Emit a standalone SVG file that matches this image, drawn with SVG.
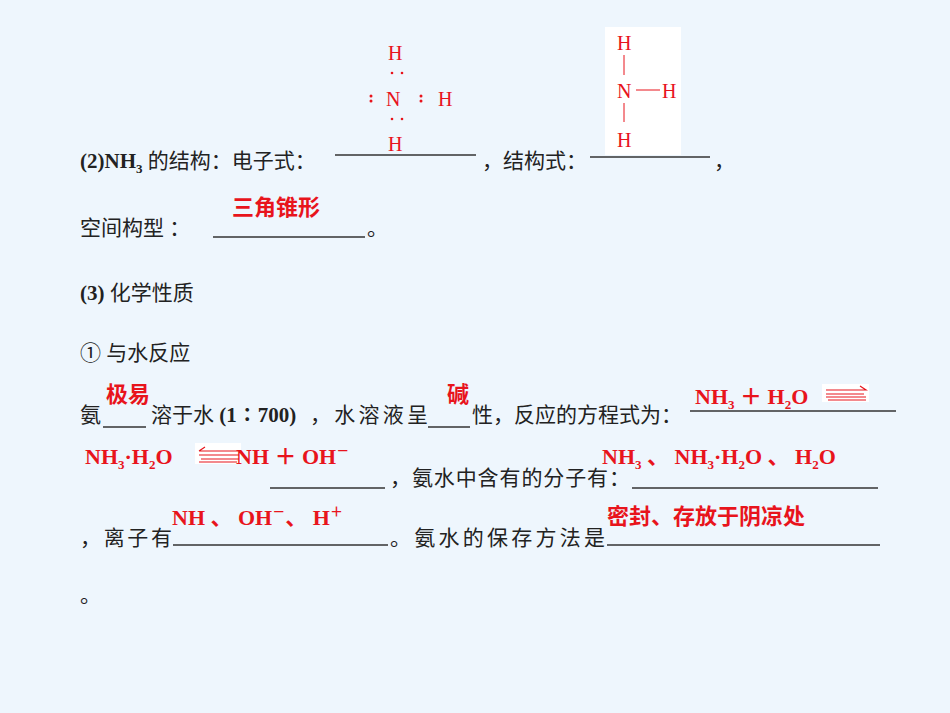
<svg xmlns="http://www.w3.org/2000/svg" width="950" height="713" viewBox="0 0 950 713">
<style>
.k{font-family:"Liberation Serif","Noto Sans CJK SC",serif;font-size:21px;fill:#222}
.kb{font-weight:bold}
.r{font-family:"Liberation Serif","Noto Sans CJK SC",serif;font-size:22px;fill:#e8141c;font-weight:bold}
.rs{font-family:"Liberation Serif",serif;font-size:20px;fill:#e8141c}
.s{font-size:13px}
.u{stroke:#333;stroke-width:1.3}
.eq{stroke:#e8141c;stroke-width:1.2;fill:none}
</style>
<rect width="950" height="713" fill="#eef6fd"/>
<g id="electron">
<text class="rs" x="388" y="60">H</text>
<text class="rs" x="386" y="106">N</text>
<text class="rs" x="438" y="106">H</text>
<text class="rs" x="388" y="151">H</text>
<g fill="#e8141c"><circle cx="392" cy="73" r="1.3"/><circle cx="402" cy="73" r="1.3"/><circle cx="392" cy="119" r="1.3"/><circle cx="402" cy="119" r="1.3"/><circle cx="371" cy="96" r="1.5"/><circle cx="371" cy="101" r="1.5"/><circle cx="421" cy="96" r="1.5"/><circle cx="421" cy="101" r="1.5"/></g>
</g>
<g id="structural">
<rect x="605" y="27" width="76" height="128" fill="#fff"/>
<text class="rs" x="617" y="50">H</text>
<text class="rs" x="617" y="98">N</text>
<text class="rs" x="662" y="98">H</text>
<text class="rs" x="617" y="147">H</text>
<g stroke="#e8141c" stroke-width="1"><line x1="624" y1="55" x2="624" y2="75"/><line x1="624" y1="103" x2="624" y2="122"/><line x1="636" y1="90" x2="660" y2="90"/></g>
</g>
<g id="text">
<text class="k" x="80" y="168"><tspan class="kb">(2)NH</tspan><tspan class="kb s" dy="5">3</tspan><tspan dy="-5"> 的结构：电子式：</tspan></text>
<line class="u" x1="335" y1="155" x2="476" y2="155"/>
<text class="k" x="482" y="168">，结构式：</text>
<line class="u" x1="590" y1="157" x2="710" y2="157"/>
<text class="k" x="714" y="168">，</text>
<text class="r" x="232" y="215">三角锥形</text>
<text class="k" x="80" y="235">空间构型 ：</text>
<line class="u" x1="213" y1="237" x2="365" y2="237"/>
<text class="k" x="367" y="235">。</text>
<text class="k" x="80" y="300"><tspan class="kb">(3)</tspan> 化学性质</text>
<text class="k" x="80" y="360">① 与水反应</text>
<text class="r" x="106" y="402">极易</text>
<text class="r" x="447" y="402">碱</text>
<text class="k" x="80" y="422">氨</text>
<line class="u" x1="103" y1="427" x2="146" y2="427"/>
<text class="k" x="151" y="422">溶于水 <tspan class="kb">(1∶700)</tspan></text>
<text class="k" x="310" y="422" textLength="118">，水溶液呈</text>
<line class="u" x1="428" y1="427" x2="470" y2="427"/>
<text class="k" x="472" y="422">性，反应的方程式为：</text>
<line class="u" x1="690" y1="411" x2="896" y2="411"/>
<text class="r" x="695" y="404">NH<tspan class="s" dy="5">3</tspan><tspan dy="-5"> ＋ H</tspan><tspan class="s" dy="5">2</tspan><tspan dy="-5">O</tspan></text>
<rect x="822" y="384" width="47" height="18" fill="#fff"/>
<path class="eq" d="M826 390H866L860 386M826 397H866M826 394H864M828 400H866" />
<text class="r" x="85" y="464">NH<tspan class="s" dy="5">3</tspan><tspan dy="-5">·H</tspan><tspan class="s" dy="5">2</tspan><tspan dy="-5">O</tspan></text>
<rect x="195" y="443" width="46" height="21" fill="#fff"/>
<path class="eq" d="M199 451H239M205 447L199 451M199 455H239M201 459H239M199 462H237" />
<text class="r" x="236" y="464">NH ＋ OH<tspan class="s" dy="-9">－</tspan></text>
<line class="u" x1="270" y1="488" x2="385" y2="488"/>
<text class="k" x="390" y="485" textLength="240">，氨水中含有的分子有：</text>
<line class="u" x1="632" y1="488" x2="878" y2="488"/>
<text class="r" x="602" y="464">NH<tspan class="s" dy="5">3</tspan><tspan dy="-5"> 、 NH</tspan><tspan class="s" dy="5">3</tspan><tspan dy="-5">·H</tspan><tspan class="s" dy="5">2</tspan><tspan dy="-5">O 、 H</tspan><tspan class="s" dy="5">2</tspan><tspan dy="-5">O</tspan></text>
<text class="r" x="172" y="525">NH 、 OH<tspan class="s" dy="-9">－</tspan><tspan dy="9">、 H</tspan><tspan class="s" dy="-9">＋</tspan></text>
<text class="r" x="607" y="524">密封、存放于阴凉处</text>
<text class="k" x="80" y="545" textLength="92">，离子有</text>
<line class="u" x1="173" y1="545" x2="388" y2="545"/>
<text class="k" x="390" y="545" textLength="215">。氨水的保存方法是</text>
<line class="u" x1="607" y1="545" x2="880" y2="545"/>
<text class="k" x="80" y="602">。</text>
</g>
</svg>
